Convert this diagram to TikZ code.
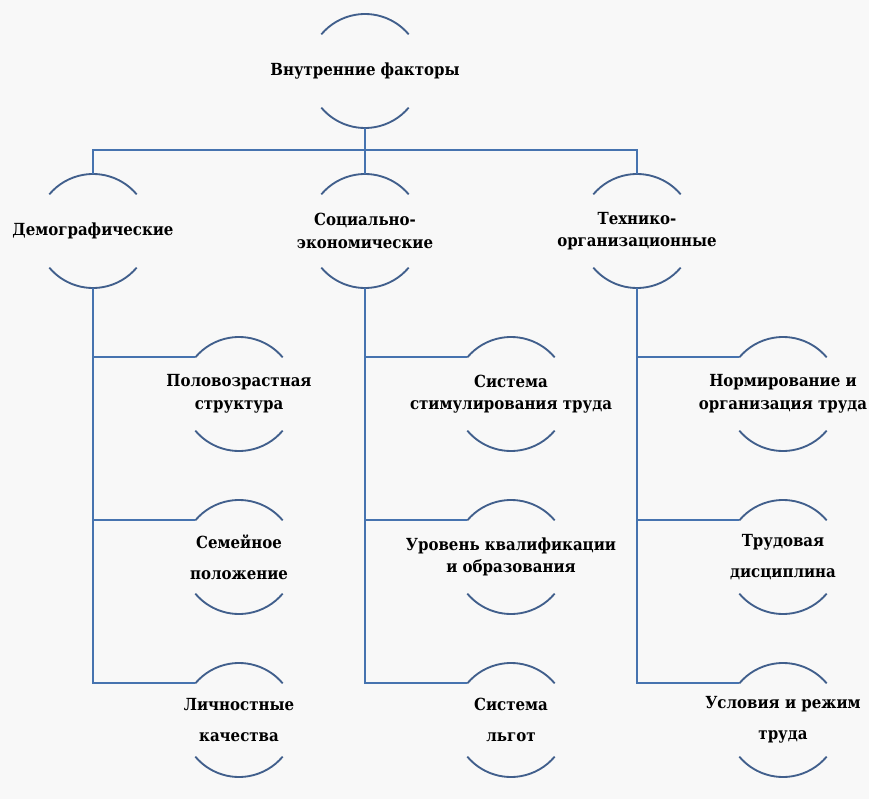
\documentclass[tikz,border=0pt]{standalone}
\usepackage{fontspec}
\setmainfont{DejaVu Serif Condensed}
\usetikzlibrary{calc}
\definecolor{linkblue}{RGB}{70,115,175}
\definecolor{arcblue}{RGB}{65,95,140}
\definecolor{paper}{RGB}{248,248,248}
\tikzset{
	factor/.style={font=\bfseries\fontsize{12.5}{17}\selectfont, align=center, inner sep=0pt},
	link/.style={draw=linkblue, line width=1.4pt},
	arcline/.style={draw=arcblue, line width=1.4pt}
}
\newcommand{\moons}[1] % node name
{
	% anchor points on the circle
	\coordinate (#1-n) at ([shift={(90:57)}]#1.center);
	\coordinate (#1-s) at ([shift={(-90:57)}]#1.center);
	\coordinate (#1-w) at ([shift={(140:57)}]#1.center);
	% upper and lower arc
	\draw[arcline] ([shift={(40:57)}]#1.center) arc (40:140:57);
	\draw[arcline] ([shift={(220:57)}]#1.center) arc (220:320:57);
}
\begin{document}
\begin{tikzpicture}[x=0.75pt, y=0.75pt]
	\fill[paper] (0,0) rectangle (869,-799);
	\useasboundingbox (0,0) rectangle (869,-799);
	% root
	\node[factor] (top) at (365,-71) {Внутренние факторы};
	% groups
	\node[factor] (demo) at (93,-231) {Демографические};
	\node[factor] (socio) at (365,-231) {Социально-\\экономические};
	\node[factor] (techno) at (637,-231) {Технико-\\организационные};
	% demographic
	\node[factor] (d1) at (239,-394) {Половозрастная\\структура};
	\node[factor] (d2) at (239,-557) {Семейное\\[6pt]положение};
	\node[factor] (d3) at (239,-720) {Личностные\\[6pt]качества};
	% socio-economic
	\node[factor] (s1) at (511,-394) {Система\\стимулирования труда};
	\node[factor] (s2) at (511,-557) {Уровень квалификации\\и образования};
	\node[factor] (s3) at (511,-720) {Система\\[6pt]льгот};
	% technical and organisational
	\node[factor] (t1) at (783,-394) {Нормирование и\\организация труда};
	\node[factor] (t2) at (783,-557) {Трудовая\\[6pt]дисциплина};
	\node[factor] (t3) at (783,-720) {Условия и режим\\[6pt]труда};
	\moons{top}
	\moons{demo} \moons{socio} \moons{techno}
	\moons{d1} \moons{d2} \moons{d3}
	\moons{s1} \moons{s2} \moons{s3}
	\moons{t1} \moons{t2} \moons{t3}
	% bus under the root
	\coordinate (bus) at ($(top-s)+(0,-22)$);
	\draw[link] (top-s) -- (bus);
	\draw[link] (demo-n) |- (bus) -| (techno-n);
	\draw[link] (bus) -- (socio-n);
	% columns
	\draw[link] (demo-s) |- (d3-w);
	\draw[link] (demo-s |- d1-w) -- (d1-w);
	\draw[link] (demo-s |- d2-w) -- (d2-w);
	\draw[link] (socio-s) |- (s3-w);
	\draw[link] (socio-s |- s1-w) -- (s1-w);
	\draw[link] (socio-s |- s2-w) -- (s2-w);
	\draw[link] (techno-s) |- (t3-w);
	\draw[link] (techno-s |- t1-w) -- (t1-w);
	\draw[link] (techno-s |- t2-w) -- (t2-w);
\end{tikzpicture}
\end{document}
